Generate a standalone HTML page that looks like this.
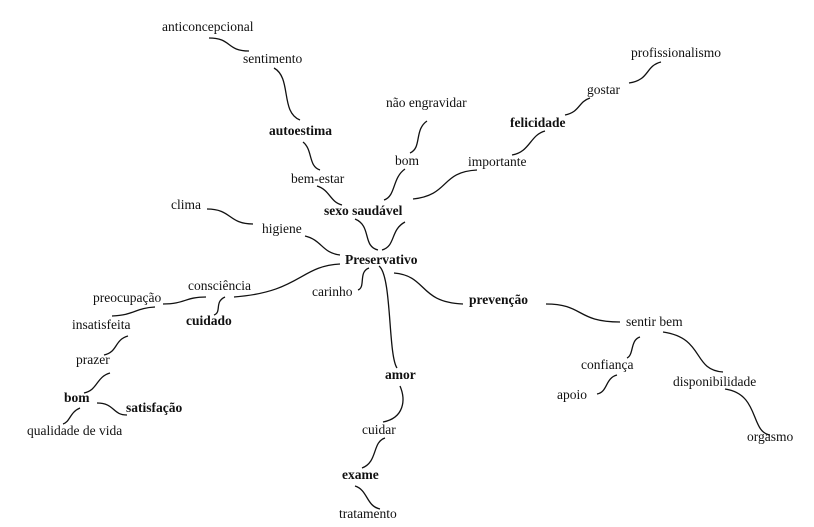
<!DOCTYPE html>
<html><head><meta charset="utf-8"><style>
html,body{margin:0;padding:0;background:#fff}
svg{display:block}
svg text{font-family:'Liberation Serif','Times New Roman','DejaVu Serif',serif;font-size:13.5px;fill:#111}
.b{font-weight:bold}
path{fill:none;stroke:#111;stroke-width:1.3}
</style></head><body>
<svg width="814" height="527" viewBox="0 0 814 527" font-family="Liberation Serif, serif">
<text x="162" y="31">anticoncepcional</text>
<text x="243" y="63">sentimento</text>
<text x="269" y="135" class="b">autoestima</text>
<text x="386" y="107">não engravidar</text>
<text x="395" y="165">bom</text>
<text x="291" y="183">bem-estar</text>
<text x="171" y="209">clima</text>
<text x="324" y="215" class="b">sexo saudável</text>
<text x="262" y="233">higiene</text>
<text x="345" y="264" class="b">Preservativo</text>
<text x="468" y="166">importante</text>
<text x="510" y="127" class="b">felicidade</text>
<text x="587" y="94">gostar</text>
<text x="631" y="57">profissionalismo</text>
<text x="188" y="290">consciência</text>
<text x="93" y="302">preocupação</text>
<text x="312" y="296">carinho</text>
<text x="186" y="325" class="b">cuidado</text>
<text x="72" y="329">insatisfeita</text>
<text x="76" y="364">prazer</text>
<text x="64" y="402" class="b">bom</text>
<text x="126" y="412" class="b">satisfação</text>
<text x="27" y="435">qualidade de vida</text>
<text x="385" y="379" class="b">amor</text>
<text x="362" y="434">cuidar</text>
<text x="342" y="479" class="b">exame</text>
<text x="339" y="518">tratamento</text>
<text x="469" y="304" class="b">prevenção</text>
<text x="626" y="326">sentir bem</text>
<text x="581" y="369">confiança</text>
<text x="557" y="399">apoio</text>
<text x="673" y="386">disponibilidade</text>
<text x="747" y="441">orgasmo</text>

<path d="M209,38 C232,38 226,51 249,51"/>
<path d="M274,68 C292,78 280,112 300,120"/>
<path d="M303,142 C313,150 308,166 320,170"/>
<path d="M317,186 C330,190 330,202 342,205"/>
<path d="M427,121 C414,130 422,148 410,153"/>
<path d="M405,169 C392,178 396,196 384,200"/>
<path d="M413,199 C450,195 440,172 477,170"/>
<path d="M545,131 C530,135 530,152 512,155"/>
<path d="M590,98 C578,102 580,112 565,115"/>
<path d="M661,62 C645,66 650,80 629,83"/>
<path d="M207,209 C232,209 228,224 253,224"/>
<path d="M305,236 C322,240 322,253 340,255"/>
<path d="M355,219 C372,226 362,246 378,250"/>
<path d="M405,222 C390,230 396,246 382,250"/>
<path d="M340,264 C300,266 300,292 234,297"/>
<path d="M206,297 C185,297 185,304 163,304"/>
<path d="M225,297 C214,302 222,312 214,315"/>
<path d="M155,307 C135,308 135,315 112,316"/>
<path d="M128,336 C114,340 118,352 104,355"/>
<path d="M110,373 C96,377 98,390 84,393"/>
<path d="M97,403 C115,403 112,415 127,415"/>
<path d="M80,408 C70,412 70,422 63,424"/>
<path d="M369,268 C358,272 366,287 358,290"/>
<path d="M379,266 C392,276 388,355 397,368"/>
<path d="M400,386 C406,400 404,418 383,422"/>
<path d="M385,438 C372,442 378,462 362,468"/>
<path d="M355,486 C368,490 366,506 380,509"/>
<path d="M394,273 C428,276 418,302 463,304"/>
<path d="M546,304 C584,304 576,322 620,322"/>
<path d="M640,337 C630,340 634,355 627,358"/>
<path d="M617,375 C605,378 608,392 597,394"/>
<path d="M663,332 C705,338 692,370 723,372"/>
<path d="M725,389 C760,394 750,432 770,435"/>
</svg>
</body></html>
